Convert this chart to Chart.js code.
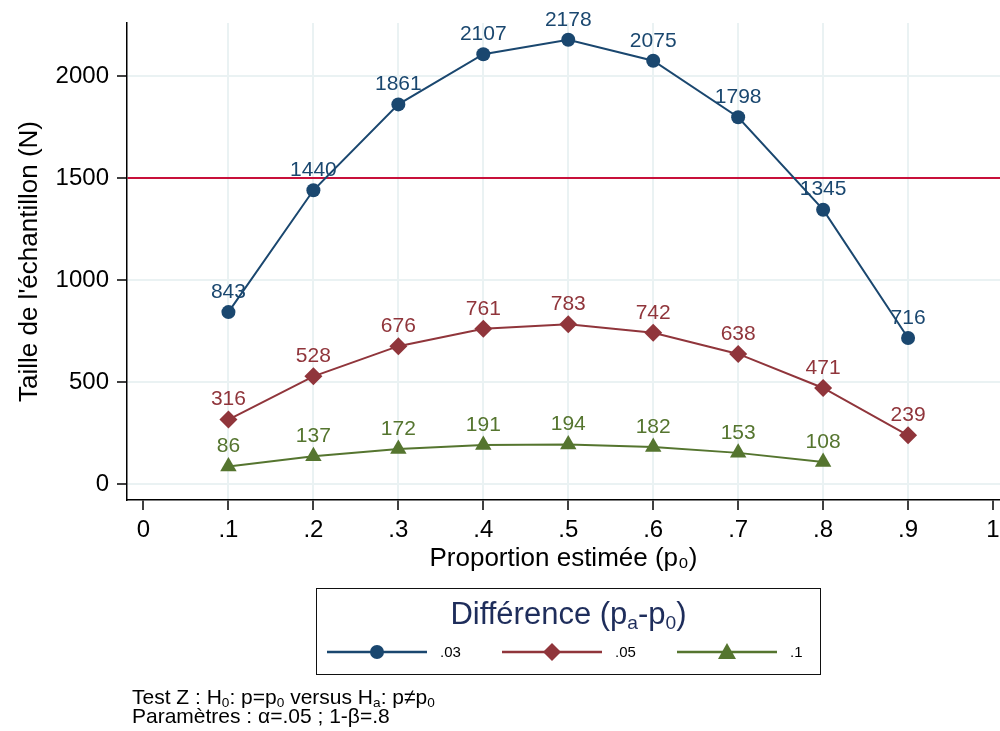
<!DOCTYPE html>
<html>
<head>
<meta charset="utf-8">
<script src="https://cdn.jsdelivr.net/npm/chart.js"></script>
<style>
  body { margin: 0; background: #fff; font-family: "Liberation Sans", Arial, sans-serif; }
  #wrap { position: relative; width: 1000px; height: 731px; }
  #legend { position: absolute; left: 316px; top: 588px; width: 505px; height: 87px;
            box-sizing: border-box; border: 1.5px solid #111; }
  #legend .title { position: absolute; left: 0; right: 0; top: 8px; text-align: center;
                   font-size: 31px; line-height: 34px; color: #1e2d5b; }
  #legend .title sub { font-size: 0.62em; vertical-align: -0.25em; line-height: 0; }
  #legend .item { position: absolute; top: 52px; height: 22px; }
  #legend .item svg { position: absolute; left: 0; top: 0; }
  #legend .item span { position: absolute; left: 113px; top: 2px; font-size: 15px; line-height: 18px; color: #000; }
  #notes { position: absolute; left: 132px; top: 687px; font-size: 21px; line-height: 19px; color: #000; white-space: nowrap; }
  #notes sub { font-size: 0.65em; vertical-align: -0.2em; line-height: 0; }
</style>
</head>
<body>
<div id="wrap">
  <canvas id="sampleChart" width="1000" height="731"></canvas>
  <div id="legend">
    <div class="title">Différence (p<sub>a</sub>-p<sub>0</sub>)</div>
  </div>
  <div id="notes">
    Test Z : H<sub>0</sub>: p=p<sub>0</sub> versus H<sub>a</sub>: p≠p<sub>0</sub><br>
    Paramètres : α=.05 ; 1-β=.8
  </div>
</div>
<script>
// Data
const proportions = [0.1, 0.2, 0.3, 0.4, 0.5, 0.6, 0.7, 0.8, 0.9];
const diff03 = [843, 1440, 1861, 2107, 2178, 2075, 1798, 1345, 716];
const diff05 = [316, 528, 676, 761, 783, 742, 638, 471, 239];
const diff10 = [86, 137, 172, 191, 194, 182, 153, 108];
const seriesLabels = [".03", ".05", ".1"];
const xTickValues = [0, 0.1, 0.2, 0.3, 0.4, 0.5, 0.6, 0.7, 0.8, 0.9, 1];
const xTickLabels = ["0", ".1", ".2", ".3", ".4", ".5", ".6", ".7", ".8", ".9", "1"];
const yTickValues = [0, 500, 1000, 1500, 2000];
const refLine = 1500;

const colors = ["#1a476f", "#90353b", "#55752f"];
const markers = ["circle", "rectRot", "triangle"];
const markerSizes = [7, 9, 9.5];
const gridColor = "#eaf2f3";
const refColor = "#c8103a";

function toPoints(values) {
    return values.map((v, i) => ({ x: proportions[i], y: v }));
}
const seriesValues = [diff03, diff05, diff10];

Chart.defaults.font.family = '"Liberation Sans", Arial, sans-serif';
Chart.defaults.color = "#000";

// numbers above each point
const valueLabels = {
    id: "valueLabels",
    afterDatasetsDraw(chart) {
        const ctx = chart.ctx;
        chart.data.datasets.forEach((ds, i) => {
            const meta = chart.getDatasetMeta(i);
            ctx.save();
            ctx.font = '21px "Liberation Sans", Arial, sans-serif';
            ctx.fillStyle = ds.borderColor;
            ctx.textAlign = "center";
            ctx.textBaseline = "middle";
            meta.data.forEach((pt, j) => {
                ctx.fillText(String(ds.data[j].y), pt.x, pt.y - 20);
            });
            ctx.restore();
        });
    }
};

const datasets = seriesValues.map((vals, i) => ({
    label: seriesLabels[i],
    data: toPoints(vals),
    borderColor: colors[i],
    backgroundColor: colors[i],
    borderWidth: 2,
    pointStyle: markers[i],
    pointRadius: markerSizes[i],
    pointBorderWidth: 0,
    pointBackgroundColor: colors[i],
    tension: 0,
    fill: false
}));

const config = {
    type: "line",
    data: { datasets: datasets },
    plugins: [valueLabels],
    options: {
        responsive: false,
        animation: false,
        layout: { autoPadding: false, padding: { left: 0, right: 0, top: 23, bottom: 151 } },
        plugins: {
            legend: { display: false },
            tooltip: { enabled: false }
        },
        scales: {
            x: {
                type: "linear",
                min: -0.0194,
                max: 1.0082,
                afterBuildTicks(scale) {
                    scale.ticks = xTickValues.map(v => ({ value: v }));
                },
                afterFit(scale) {
                    scale.height = 80;
                    scale.paddingLeft = 0;
                    scale.paddingRight = 0;
                },
                ticks: {
                    autoSkip: false,
                    maxRotation: 0,
                    padding: 6,
                    font: { size: 24 },
                    callback: (v) => xTickLabels[xTickValues.indexOf(v)] ?? ""
                },
                grid: {
                    color: (c) => (c.tick && (c.tick.value === 0 || c.tick.value === 1)) ? "rgba(0,0,0,0)" : gridColor,
                    lineWidth: 2,
                    tickColor: "#000",
                    tickLength: 10,
                    tickWidth: 1.5
                },
                border: { color: "#000", width: 1.5 },
                title: {
                    display: true,
                    text: "Proportion estimée (p₀)",
                    font: { size: 26 },
                    padding: { top: 0, bottom: 6 }
                }
            },
            y: {
                min: -78,
                max: 2260,
                afterBuildTicks(scale) {
                    scale.ticks = yTickValues.map(v => ({ value: v }));
                },
                afterFit(scale) {
                    scale.width = 127;
                    scale.paddingTop = 0;
                    scale.paddingBottom = 0;
                },
                ticks: {
                    padding: 8,
                    font: { size: 24 },
                    callback: (v) => String(v)
                },
                grid: {
                    color: (c) => (c.tick && c.tick.value === refLine) ? refColor : gridColor,
                    lineWidth: 2,
                    tickColor: "#000",
                    tickLength: 10,
                    tickWidth: 1.5
                },
                border: { color: "#000", width: 1.5 },
                title: {
                    display: true,
                    text: "Taille de l'échantillon (N)",
                    font: { size: 26 },
                    padding: { top: 14, bottom: 0 }
                }
            }
        }
    }
};

const ctx = document.getElementById("sampleChart").getContext("2d");
new Chart(ctx, config);

// legend entries (line + marker + label)
const legend = document.getElementById("legend");
function markerSvg(i) {
    const c = colors[i];
    if (markers[i] === "circle") return `<circle cx="50" cy="11" r="7" fill="${c}"/>`;
    if (markers[i] === "rectRot") return `<polygon points="50,2 59,11 50,20 41,11" fill="${c}"/>`;
    return `<polygon points="50,2 59,18 41,18" fill="${c}"/>`;
}
seriesLabels.forEach((lab, i) => {
    const item = document.createElement("div");
    item.className = "item";
    item.style.left = (10 + i * 175) + "px";
    item.innerHTML = `<svg width="100" height="22"><line x1="0" y1="11" x2="100" y2="11" stroke="${colors[i]}" stroke-width="2.5"/>${markerSvg(i)}</svg><span>${lab}</span>`;
    legend.appendChild(item);
});
</script>
</body>
</html>
